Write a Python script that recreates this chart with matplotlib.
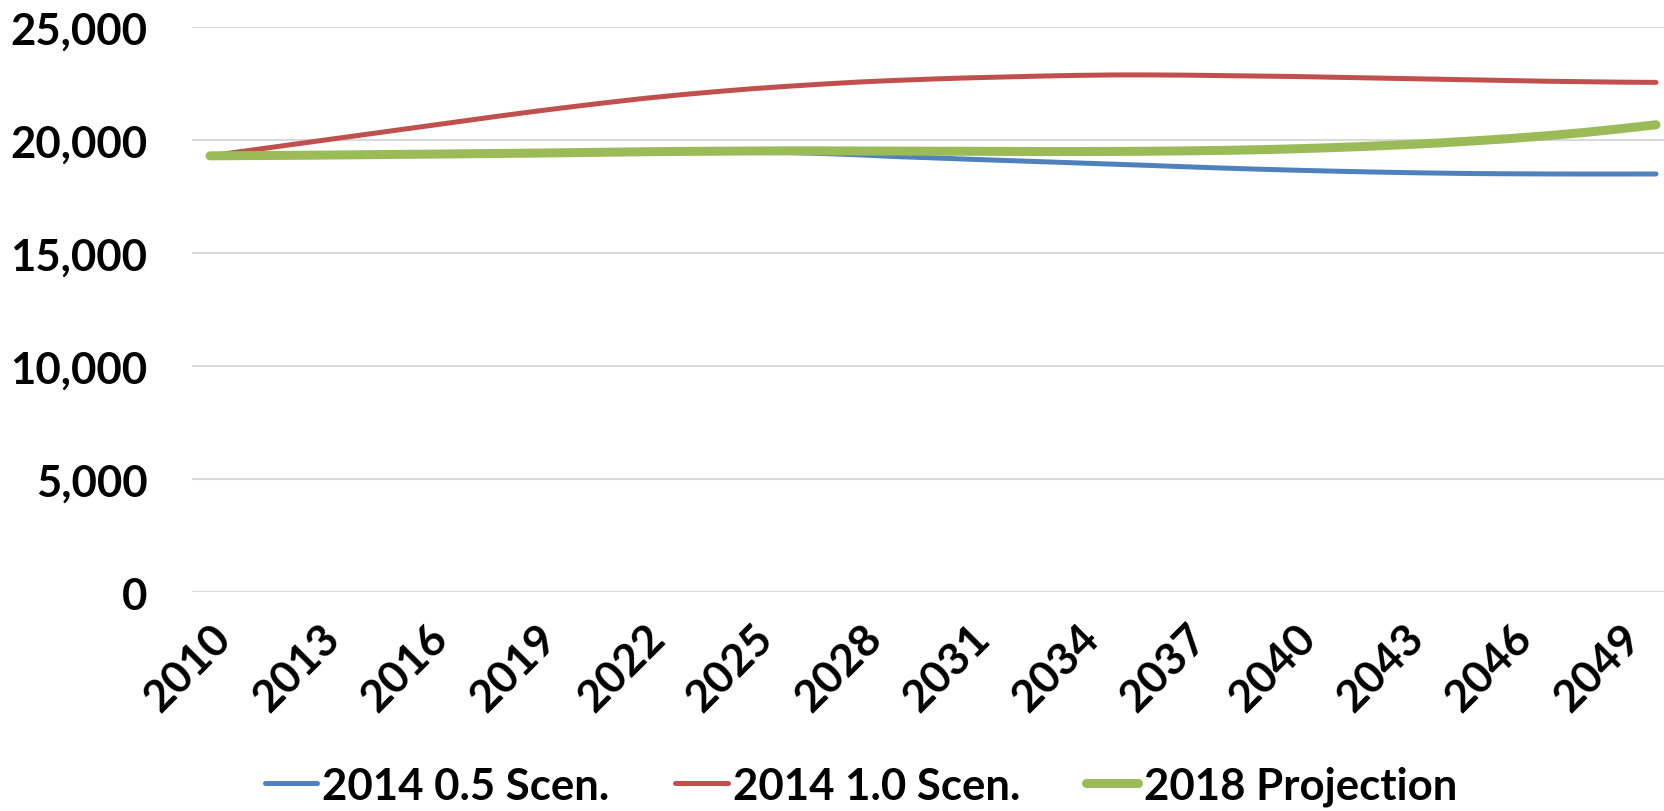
import numpy as np
import matplotlib
matplotlib.use("Agg")
import matplotlib.pyplot as plt
import matplotlib.transforms as mtransforms
from matplotlib.ticker import FuncFormatter

plt.rcParams['font.family'] = ['Lato', 'DejaVu Sans']
plt.rcParams['font.weight'] = 'bold'

# Годы
years = list(range(2010, 2051))

# Сценарии
scen_05 = [19300, 19310, 19320, 19330, 19345, 19360, 19375, 19390, 19405, 19420,
           19440, 19460, 19480, 19495, 19500, 19490, 19450, 19400, 19340, 19265,
           19210, 19150, 19095, 19040, 18985, 18930, 18875, 18815, 18760, 18710,
           18665, 18625, 18590, 18560, 18535, 18515, 18505, 18498, 18495, 18495,
           18497]
scen_10 = [19300, 19520, 19740, 19960, 20180, 20400, 20620, 20840, 21060, 21270,
           21470, 21660, 21840, 22000, 22140, 22270, 22380, 22480, 22570, 22640,
           22700, 22750, 22790, 22830, 22860, 22880, 22880, 22870, 22850, 22830,
           22810, 22780, 22750, 22720, 22690, 22660, 22630, 22600, 22580, 22560,
           22550]
proj_2018 = [19300, 19310, 19320, 19330, 19345, 19360, 19375, 19390, 19405, 19420,
             19440, 19460, 19480, 19495, 19505, 19515, 19520, 19520, 19515, 19510,
             19505, 19500, 19495, 19490, 19490, 19495, 19505, 19520, 19540, 19570,
             19610, 19660, 19720, 19790, 19870, 19965, 20070, 20190, 20330, 20495,
             20675]

series_names = ['2014 0.5 Scen.', '2014 1.0 Scen.', '2018 Projection']
colors = ['#4F81BD', '#C0504D', '#9BBB59']

fig = plt.figure(figsize=(16.65, 8.12), dpi=100)
ax = fig.add_axes([0.1153, 0.2697, 0.8847, 0.6958])

x = np.arange(len(years))
ax.plot(x, scen_05, color=colors[0], lw=3.6, solid_capstyle='round', label=series_names[0], zorder=3)
ax.plot(x, scen_10, color=colors[1], lw=3.6, solid_capstyle='round', label=series_names[1], zorder=4)
ax.plot(x, proj_2018, color=colors[2], lw=6.5, solid_capstyle='round', label=series_names[2], zorder=5)

ax.set_ylim(0, 25000)
ax.set_xlim(-0.5, 40.25)
ax.set_yticks(np.arange(0, 25001, 5000))
ax.yaxis.set_major_formatter(FuncFormatter(lambda v, p: f'{int(v):,}'))
ax.set_xticks(x[::3])
ax.set_xticklabels([str(y) for y in years[::3]], rotation=45, ha='right', va='top',
                   rotation_mode='anchor')
# сдвиг подписей чуть левее
shift = mtransforms.ScaledTranslation(-0.1, 0, fig.dpi_scale_trans)
for lbl in ax.get_xticklabels():
    lbl.set_transform(lbl.get_transform() + shift)

ax.grid(axis='y', color='#D9D9D9', lw=1.5)
ax.set_axisbelow(True)
for s in ax.spines.values():
    s.set_visible(False)
ax.tick_params(axis='y', length=0, pad=32, labelsize=31.5)
ax.tick_params(axis='x', length=0, pad=18, labelsize=32)

leg = ax.legend(loc='center', bbox_to_anchor=(0.517, 1 - 787 / 812), bbox_transform=fig.transFigure,
                ncol=3, frameon=False, fontsize=31.5, handlelength=1.2, handletextpad=0.12,
                columnspacing=1.5)

fig.savefig('out.png', dpi=100)
